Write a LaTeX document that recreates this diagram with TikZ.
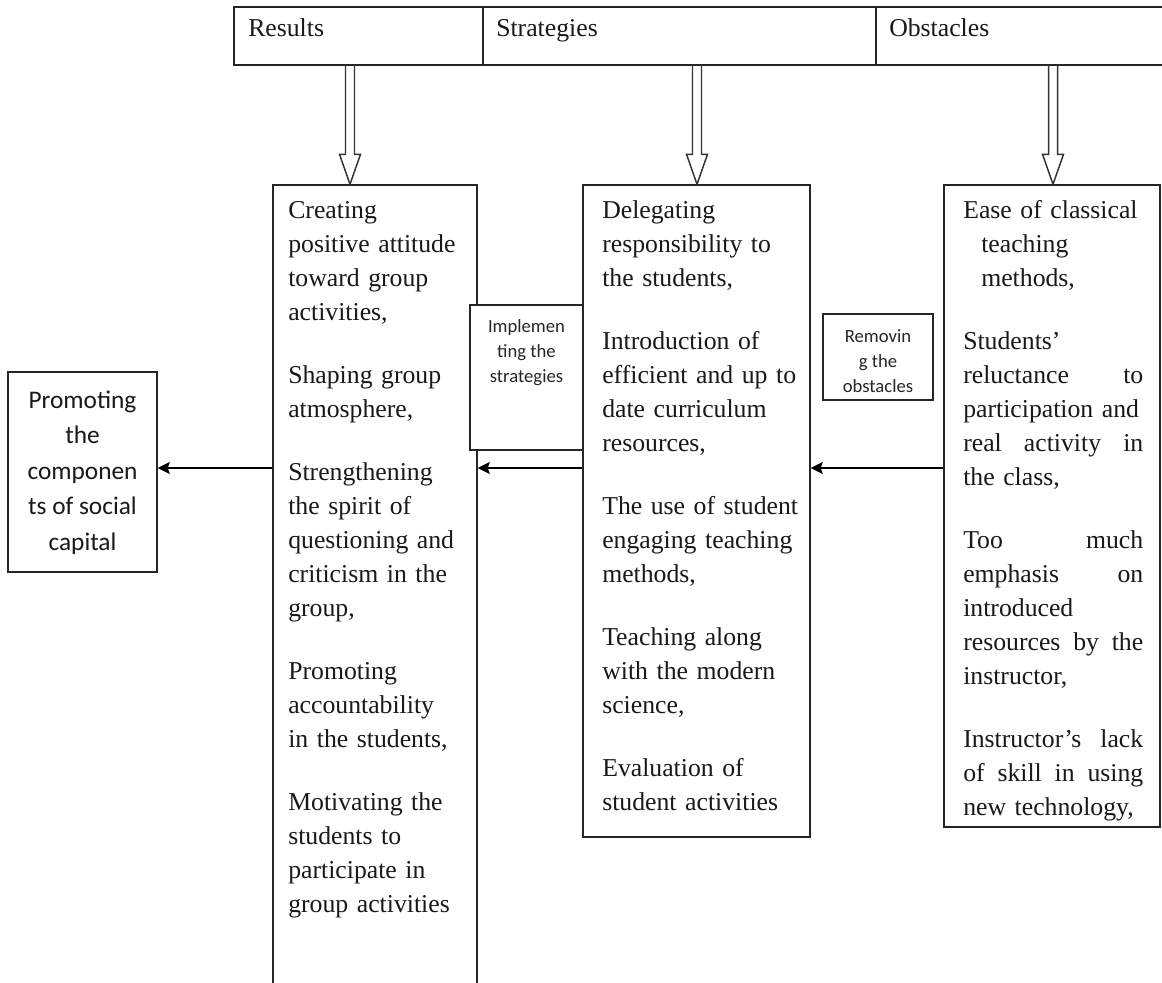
\documentclass[tikz,border=0pt]{standalone}
\usepackage{fontspec}
\setmainfont{Liberation Serif}
\newfontfamily\calibrifont{Carlito}
\usetikzlibrary{arrows.meta,fit,calc}
\begin{document}
\begin{tikzpicture}[x=0.75pt,y=-0.75pt,
  box/.style={draw=black!85,line width=1.1pt,inner sep=0pt,fill=white},
  body/.style={anchor=north west,inner sep=0pt,align=left,text=black!90,font=\fontsize{19.3pt}{25.5pt}\selectfont},
  head/.style={anchor=base west,inner sep=0pt,text=black!90,font=\fontsize{19.3pt}{25.5pt}\selectfont},
  small/.style={anchor=north,inner sep=0pt,align=center,text=black!85,font=\calibrifont\fontsize{14pt}{19pt}\selectfont},
  big/.style={anchor=north,inner sep=0pt,align=center,text=black!90,font=\calibrifont\fontsize{19pt}{26.6pt}\selectfont},
  arr/.style={draw=black,line width=1.1pt,-{Stealth[length=9pt,width=9pt,inset=1.5pt]}},
  hollow/.pic={\draw[draw=black!80,line width=1.1pt,line join=miter] (-4.5,-120) -- (-4.5,-30) -- (-10.5,-30) -- (0,0) -- (10.5,-30) -- (4.5,-30) -- (4.5,-120);}
]
\useasboundingbox (0,0) rectangle (1162,982);
\begin{scope}
\clip (0,0) rectangle (1162,982);
% header cells
\node[box, fit={(234,7) (483,65)}] (hres) {};
\node[box, fit={(483,7) (876,65)}] (hstr) {};
\node[box, fit={(876,7) (1185,65)}] (hobs) {};
\node[head] (tres) at (248,36) {Results};
\node[head] (tstr) at (496,36) {Strategies};
\node[head] (tobs) at (889,36) {Obstacles};

% main boxes
\node[box, fit={(273,185) (477,1010)}] (res) {};
\node[box, fit={(583,185) (810,837)}] (str) {};
\node[box, fit={(944,185) (1160,827)}] (obs) {};
\node[box, fit={(8,372) (157,572)}] (prom) {};
\node[box, fit={(470,305) (583,450)}] (impl) {};
\node[box, fit={(823,314) (933,400)}] (remv) {};

% arrow positions
\coordinate (a1) at (350,0);
\coordinate (a2) at (697,0);
\coordinate (a3) at (1053,0);
\coordinate (ya) at (0,468);
\pic at (res.north -| a1) {hollow};
\pic at (str.north -| a2) {hollow};
\pic at (obs.north -| a3) {hollow};

% texts
\node[body, text width=150pt] (resT) at (288,194.2) {\strut Creating\\
positive attitude\\
toward group\\
activities,\\[21.75pt]
Shaping group\\
atmosphere,\\[21.75pt]
Strengthening\\
the spirit of\\
questioning and\\
criticism in the\\
group,\\[21.75pt]
Promoting\\
accountability\\
in the students,\\[21.75pt]
Motivating the\\
students to\\
participate in\\
group activities};

\node[body, text width=162pt] (strT) at (602,194.2) {\strut Delegating\\
responsibility to\\
the students,\\[21.75pt]
Introduction of\\
efficient and up to\\
date curriculum\\
resources,\\[21.75pt]
The use of student\\
engaging teaching\\
methods,\\[21.75pt]
Teaching along\\
with the modern\\
science,\\[21.75pt]
Evaluation of\\
student activities};

\node[body, text width=135pt] (obsT) at (963,194.2) {\strut Ease of classical\\
\hspace*{13.5pt}teaching\\
\hspace*{13.5pt}methods,\\[21.75pt]
Students’\\
reluctance\hfill to\\
participation and\\
real\hfill activity\hfill in\\
the class,\\[21.75pt]
Too\hfill much\\
emphasis\hfill on\\
introduced\\
resources\hfill by\hfill the\\
instructor,\\[21.75pt]
Instructor’s\hfill lack\\
of\hfill skill\hfill in\hfill using\\
new technology,};

\node[small] (implT) at (impl.north |- 0,314.3) {\strut Implemen\\ting the\\strategies};
\node[small] (remvT) at (remv.north |- 0,324.3) {\strut Removin\\g the\\obstacles};
\node[big] (promT) at (prom.north |- 0,383.2) {\strut Promoting\\the\\componen\\ts of social\\capital};

% connectors
\draw[arr] (obs.west |- ya) -- (str.east |- ya);
\draw[arr] (str.west |- ya) -- (res.east |- ya);
\draw[arr] (res.west |- ya) -- (prom.east |- ya);
\end{scope}
\end{tikzpicture}
\end{document}
